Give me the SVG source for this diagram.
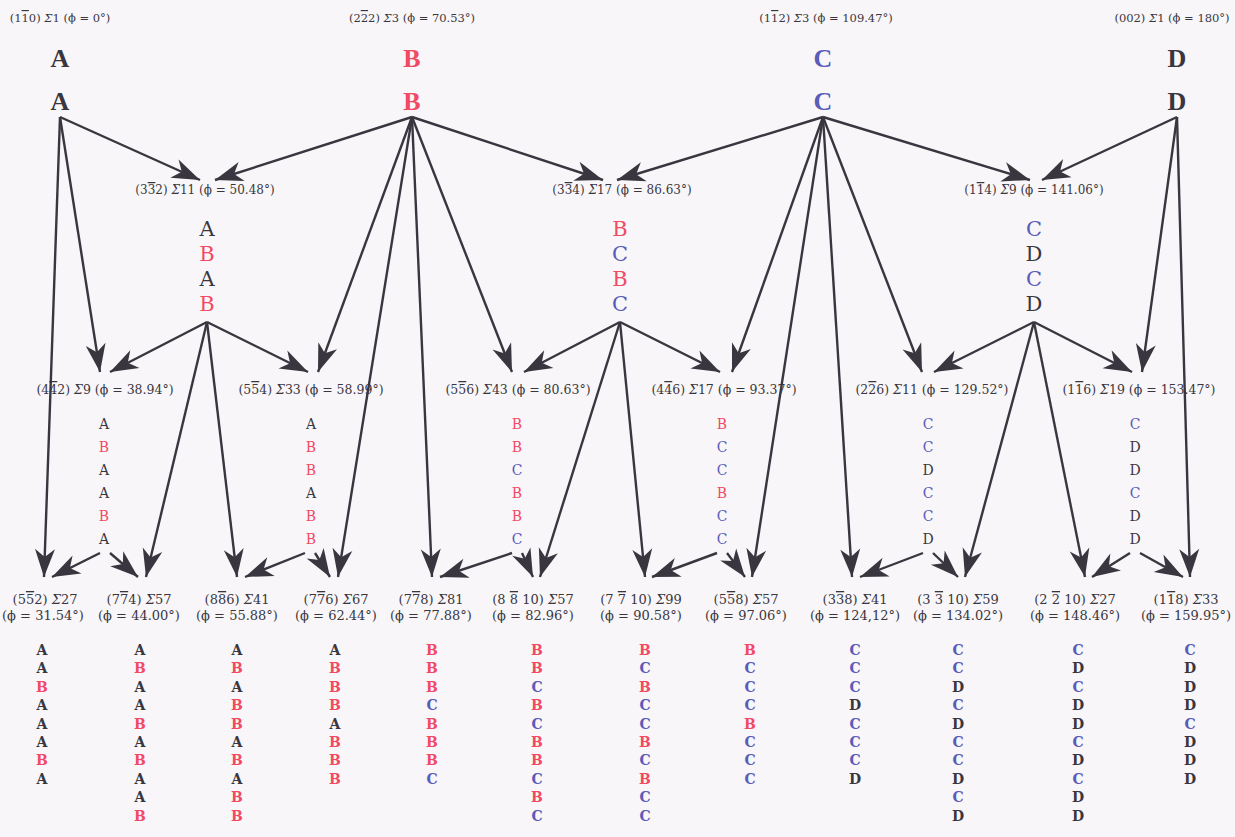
<svg xmlns="http://www.w3.org/2000/svg" width="1235" height="837" viewBox="0 0 1235 837">
<defs>
<marker id="ah" viewBox="-30 -12 32 24" refX="0" refY="0" markerWidth="32" markerHeight="24" orient="auto" markerUnits="userSpaceOnUse">
<path d="M0,0 L-28,-10 L-20,0 L-28,10 Z" fill="#3a3640"/>
</marker>
</defs>
<style>
.lbl{font-family:"DejaVu Serif","Liberation Serif",serif;font-size:12px;fill:#3a3640;text-anchor:middle}
.tl{font-size:11.5px}
.ml{font-size:12.5px}
.bl{font-size:13px}
.o{text-decoration:overline}
.big{font-family:"Liberation Serif",serif;font-size:26px;font-weight:bold;text-anchor:middle}
.up{font-family:"DejaVu Serif","Liberation Serif",serif;font-size:21px;text-anchor:middle}
.mid{font-family:"DejaVu Serif","Liberation Serif",serif;font-size:14px;text-anchor:middle}
.bot{font-family:"DejaVu Serif","Liberation Serif",serif;font-size:14px;font-weight:bold;text-anchor:middle}
.a,.d{fill:#3a3640}
.b{fill:#f24a64}
.c{fill:#5a5cb8}
.s{font-style:italic}
#connectors line{stroke:#3a3640;stroke-width:2.4;marker-end:url(#ah)}
</style>
<rect width="1235" height="837" fill="#f8f6f9"/>

<g id="connectors">
<line x1="60" y1="117" x2="200" y2="180"/>
<line x1="412" y1="117" x2="215" y2="180"/>
<line x1="412" y1="117" x2="603" y2="180"/>
<line x1="823" y1="117" x2="617" y2="180"/>
<line x1="823" y1="117" x2="1030" y2="180"/>
<line x1="1177" y1="117" x2="1042" y2="180"/>

<line x1="60" y1="117" x2="100" y2="372"/>
<line x1="207" y1="322" x2="110" y2="372"/>
<line x1="207" y1="322" x2="308" y2="372"/>
<line x1="412" y1="117" x2="318" y2="372"/>
<line x1="412" y1="117" x2="512" y2="372"/>
<line x1="620" y1="322" x2="524" y2="372"/>
<line x1="620" y1="322" x2="720" y2="372"/>
<line x1="823" y1="117" x2="732" y2="372"/>
<line x1="823" y1="117" x2="922" y2="372"/>
<line x1="1034" y1="322" x2="934" y2="372"/>
<line x1="1034" y1="322" x2="1132" y2="372"/>
<line x1="1177" y1="117" x2="1142" y2="372"/>

<line x1="60" y1="117" x2="44" y2="577"/>
<line x1="207" y1="322" x2="146" y2="577"/>
<line x1="207" y1="322" x2="237" y2="577"/>
<line x1="412" y1="117" x2="338" y2="577"/>
<line x1="412" y1="117" x2="432" y2="577"/>
<line x1="620" y1="322" x2="540" y2="577"/>
<line x1="620" y1="322" x2="645" y2="577"/>
<line x1="823" y1="117" x2="752" y2="577"/>
<line x1="823" y1="117" x2="852" y2="577"/>
<line x1="1034" y1="322" x2="965" y2="577"/>
<line x1="1034" y1="322" x2="1085" y2="577"/>
<line x1="1177" y1="117" x2="1190" y2="577"/>

<line x1="100" y1="553" x2="52" y2="577"/>
<line x1="110" y1="553" x2="138" y2="577"/>
<line x1="305" y1="553" x2="245" y2="577"/>
<line x1="315" y1="553" x2="330" y2="577"/>
<line x1="512" y1="553" x2="440" y2="577"/>
<line x1="522" y1="553" x2="533" y2="577"/>
<line x1="717" y1="553" x2="652" y2="577"/>
<line x1="727" y1="553" x2="745" y2="577"/>
<line x1="923" y1="553" x2="860" y2="577"/>
<line x1="933" y1="553" x2="958" y2="577"/>
<line x1="1130" y1="553" x2="1092" y2="577"/>
<line x1="1140" y1="553" x2="1183" y2="577"/>
</g>

<g id="top-labels">
<text class="lbl tl" x="60" y="22">(1<tspan class="o">1</tspan>0) <tspan class="s">Σ</tspan>1 (ϕ = 0°)</text>
<text class="lbl tl" x="412" y="22">(2<tspan class="o">2</tspan>2) <tspan class="s">Σ</tspan>3 (ϕ = 70.53°)</text>
<text class="lbl tl" x="826" y="22">(1<tspan class="o">1</tspan>2) <tspan class="s">Σ</tspan>3 (ϕ = 109.47°)</text>
<text class="lbl tl" x="1172" y="22">(002) <tspan class="s">Σ</tspan>1 (ϕ = 180°)</text>
</g>

<g id="node-A"><text class="big a" x="60" y="67">A</text><text class="big a" x="60" y="110">A</text></g>
<g id="node-B"><text class="big b" x="412" y="67">B</text><text class="big b" x="412" y="110">B</text></g>
<g id="node-C"><text class="big c" x="823" y="67">C</text><text class="big c" x="823" y="110">C</text></g>
<g id="node-D"><text class="big d" x="1177" y="67">D</text><text class="big d" x="1177" y="110">D</text></g>

<g id="node-332">
<text class="lbl" x="205" y="194">(3<tspan class="o">3</tspan>2) <tspan class="s">Σ</tspan>11 (ϕ = 50.48°)</text>
<text class="up a" x="207" y="236">A</text><text class="up b" x="207" y="261">B</text><text class="up a" x="207" y="286">A</text><text class="up b" x="207" y="311">B</text>
</g>
<g id="node-334">
<text class="lbl" x="622" y="194">(3<tspan class="o">3</tspan>4) <tspan class="s">Σ</tspan>17 (ϕ = 86.63°)</text>
<text class="up b" x="620" y="236">B</text><text class="up c" x="620" y="261">C</text><text class="up b" x="620" y="286">B</text><text class="up c" x="620" y="311">C</text>
</g>
<g id="node-114">
<text class="lbl" x="1034" y="194">(1<tspan class="o">1</tspan>4) <tspan class="s">Σ</tspan>9 (ϕ = 141.06°)</text>
<text class="up c" x="1034" y="236">C</text><text class="up d" x="1034" y="261">D</text><text class="up c" x="1034" y="286">C</text><text class="up d" x="1034" y="311">D</text>
</g>

<g id="node-442">
<text class="lbl ml" x="105" y="394">(4<tspan class="o">4</tspan>2) <tspan class="s">Σ</tspan>9 (ϕ = 38.94°)</text>
<text class="mid a" x="104" y="429">A</text><text class="mid b" x="104" y="452">B</text><text class="mid a" x="104" y="475">A</text><text class="mid a" x="104" y="498">A</text><text class="mid b" x="104" y="521">B</text><text class="mid a" x="104" y="544">A</text>
</g>
<g id="node-554">
<text class="lbl ml" x="311" y="394">(5<tspan class="o">5</tspan>4) <tspan class="s">Σ</tspan>33 (ϕ = 58.99°)</text>
<text class="mid a" x="311" y="429">A</text><text class="mid b" x="311" y="452">B</text><text class="mid b" x="311" y="475">B</text><text class="mid a" x="311" y="498">A</text><text class="mid b" x="311" y="521">B</text><text class="mid b" x="311" y="544">B</text>
</g>
<g id="node-556">
<text class="lbl ml" x="518" y="394">(5<tspan class="o">5</tspan>6) <tspan class="s">Σ</tspan>43 (ϕ = 80.63°)</text>
<text class="mid b" x="517" y="429">B</text><text class="mid b" x="517" y="452">B</text><text class="mid c" x="517" y="475">C</text><text class="mid b" x="517" y="498">B</text><text class="mid b" x="517" y="521">B</text><text class="mid c" x="517" y="544">C</text>
</g>
<g id="node-446">
<text class="lbl ml" x="724" y="394">(4<tspan class="o">4</tspan>6) <tspan class="s">Σ</tspan>17 (ϕ = 93.37°)</text>
<text class="mid b" x="722" y="429">B</text><text class="mid c" x="722" y="452">C</text><text class="mid c" x="722" y="475">C</text><text class="mid b" x="722" y="498">B</text><text class="mid c" x="722" y="521">C</text><text class="mid c" x="722" y="544">C</text>
</g>
<g id="node-226">
<text class="lbl ml" x="932" y="394">(2<tspan class="o">2</tspan>6) <tspan class="s">Σ</tspan>11 (ϕ = 129.52°)</text>
<text class="mid c" x="928" y="429">C</text><text class="mid c" x="928" y="452">C</text><text class="mid d" x="928" y="475">D</text><text class="mid c" x="928" y="498">C</text><text class="mid c" x="928" y="521">C</text><text class="mid d" x="928" y="544">D</text>
</g>
<g id="node-116">
<text class="lbl ml" x="1139" y="394">(1<tspan class="o">1</tspan>6) <tspan class="s">Σ</tspan>19 (ϕ = 153.47°)</text>
<text class="mid c" x="1135" y="429">C</text><text class="mid d" x="1135" y="452">D</text><text class="mid d" x="1135" y="475">D</text><text class="mid c" x="1135" y="498">C</text><text class="mid d" x="1135" y="521">D</text><text class="mid d" x="1135" y="544">D</text>
</g>

<g id="node-552">
<text class="lbl bl" x="45" y="604">(5<tspan class="o">5</tspan>2) <tspan class="s">Σ</tspan>27</text><text class="lbl bl" x="43" y="620">(ϕ = 31.54°)</text>
<text class="bot a" x="42" y="655">A</text><text class="bot a" x="42" y="673.4">A</text><text class="bot b" x="42" y="691.8">B</text><text class="bot a" x="42" y="710.2">A</text><text class="bot a" x="42" y="728.6">A</text><text class="bot a" x="42" y="747">A</text><text class="bot b" x="42" y="765.4">B</text><text class="bot a" x="42" y="783.8">A</text>
</g>
<g id="node-774">
<text class="lbl bl" x="139" y="604">(7<tspan class="o">7</tspan>4) <tspan class="s">Σ</tspan>57</text><text class="lbl bl" x="139" y="620">(ϕ = 44.00°)</text>
<text class="bot a" x="140" y="655">A</text><text class="bot b" x="140" y="673.4">B</text><text class="bot a" x="140" y="691.8">A</text><text class="bot a" x="140" y="710.2">A</text><text class="bot b" x="140" y="728.6">B</text><text class="bot a" x="140" y="747">A</text><text class="bot b" x="140" y="765.4">B</text><text class="bot a" x="140" y="783.8">A</text><text class="bot a" x="140" y="802.2">A</text><text class="bot b" x="140" y="820.6">B</text>
</g>
<g id="node-886">
<text class="lbl bl" x="237" y="604">(8<tspan class="o">8</tspan>6) <tspan class="s">Σ</tspan>41</text><text class="lbl bl" x="237" y="620">(ϕ = 55.88°)</text>
<text class="bot a" x="237" y="655">A</text><text class="bot b" x="237" y="673.4">B</text><text class="bot a" x="237" y="691.8">A</text><text class="bot b" x="237" y="710.2">B</text><text class="bot b" x="237" y="728.6">B</text><text class="bot a" x="237" y="747">A</text><text class="bot b" x="237" y="765.4">B</text><text class="bot a" x="237" y="783.8">A</text><text class="bot b" x="237" y="802.2">B</text><text class="bot b" x="237" y="820.6">B</text>
</g>
<g id="node-776">
<text class="lbl bl" x="336" y="604">(7<tspan class="o">7</tspan>6) <tspan class="s">Σ</tspan>67</text><text class="lbl bl" x="336" y="620">(ϕ = 62.44°)</text>
<text class="bot a" x="335" y="655">A</text><text class="bot b" x="335" y="673.4">B</text><text class="bot b" x="335" y="691.8">B</text><text class="bot b" x="335" y="710.2">B</text><text class="bot a" x="335" y="728.6">A</text><text class="bot b" x="335" y="747">B</text><text class="bot b" x="335" y="765.4">B</text><text class="bot b" x="335" y="783.8">B</text>
</g>
<g id="node-778">
<text class="lbl bl" x="431" y="604">(7<tspan class="o">7</tspan>8) <tspan class="s">Σ</tspan>81</text><text class="lbl bl" x="431" y="620">(ϕ = 77.88°)</text>
<text class="bot b" x="432" y="655">B</text><text class="bot b" x="432" y="673.4">B</text><text class="bot b" x="432" y="691.8">B</text><text class="bot c" x="432" y="710.2">C</text><text class="bot b" x="432" y="728.6">B</text><text class="bot b" x="432" y="747">B</text><text class="bot b" x="432" y="765.4">B</text><text class="bot c" x="432" y="783.8">C</text>
</g>
<g id="node-8810">
<text class="lbl bl" x="533" y="604">(8 <tspan class="o">8</tspan> 10) <tspan class="s">Σ</tspan>57</text><text class="lbl bl" x="533" y="620">(ϕ = 82.96°)</text>
<text class="bot b" x="537" y="655">B</text><text class="bot b" x="537" y="673.4">B</text><text class="bot c" x="537" y="691.8">C</text><text class="bot b" x="537" y="710.2">B</text><text class="bot c" x="537" y="728.6">C</text><text class="bot b" x="537" y="747">B</text><text class="bot b" x="537" y="765.4">B</text><text class="bot c" x="537" y="783.8">C</text><text class="bot b" x="537" y="802.2">B</text><text class="bot c" x="537" y="820.6">C</text>
</g>
<g id="node-7710">
<text class="lbl bl" x="641" y="604">(7 <tspan class="o">7</tspan> 10) <tspan class="s">Σ</tspan>99</text><text class="lbl bl" x="641" y="620">(ϕ = 90.58°)</text>
<text class="bot b" x="645" y="655">B</text><text class="bot c" x="645" y="673.4">C</text><text class="bot b" x="645" y="691.8">B</text><text class="bot c" x="645" y="710.2">C</text><text class="bot c" x="645" y="728.6">C</text><text class="bot b" x="645" y="747">B</text><text class="bot c" x="645" y="765.4">C</text><text class="bot b" x="645" y="783.8">B</text><text class="bot c" x="645" y="802.2">C</text><text class="bot c" x="645" y="820.6">C</text>
</g>
<g id="node-558">
<text class="lbl bl" x="746" y="604">(5<tspan class="o">5</tspan>8) <tspan class="s">Σ</tspan>57</text><text class="lbl bl" x="746" y="620">(ϕ = 97.06°)</text>
<text class="bot b" x="750" y="655">B</text><text class="bot c" x="750" y="673.4">C</text><text class="bot c" x="750" y="691.8">C</text><text class="bot c" x="750" y="710.2">C</text><text class="bot b" x="750" y="728.6">B</text><text class="bot c" x="750" y="747">C</text><text class="bot c" x="750" y="765.4">C</text><text class="bot c" x="750" y="783.8">C</text>
</g>
<g id="node-338">
<text class="lbl bl" x="855" y="604">(3<tspan class="o">3</tspan>8) <tspan class="s">Σ</tspan>41</text><text class="lbl bl" x="855" y="620">(ϕ = 124,12°)</text>
<text class="bot c" x="855" y="655">C</text><text class="bot c" x="855" y="673.4">C</text><text class="bot c" x="855" y="691.8">C</text><text class="bot d" x="855" y="710.2">D</text><text class="bot c" x="855" y="728.6">C</text><text class="bot c" x="855" y="747">C</text><text class="bot c" x="855" y="765.4">C</text><text class="bot d" x="855" y="783.8">D</text>
</g>
<g id="node-3310">
<text class="lbl bl" x="958" y="604">(3 <tspan class="o">3</tspan> 10) <tspan class="s">Σ</tspan>59</text><text class="lbl bl" x="958" y="620">(ϕ = 134.02°)</text>
<text class="bot c" x="958" y="655">C</text><text class="bot c" x="958" y="673.4">C</text><text class="bot d" x="958" y="691.8">D</text><text class="bot c" x="958" y="710.2">C</text><text class="bot d" x="958" y="728.6">D</text><text class="bot c" x="958" y="747">C</text><text class="bot c" x="958" y="765.4">C</text><text class="bot d" x="958" y="783.8">D</text><text class="bot c" x="958" y="802.2">C</text><text class="bot d" x="958" y="820.6">D</text>
</g>
<g id="node-2210">
<text class="lbl bl" x="1075" y="604">(2 <tspan class="o">2</tspan> 10) <tspan class="s">Σ</tspan>27</text><text class="lbl bl" x="1075" y="620">(ϕ = 148.46°)</text>
<text class="bot c" x="1078" y="655">C</text><text class="bot d" x="1078" y="673.4">D</text><text class="bot c" x="1078" y="691.8">C</text><text class="bot d" x="1078" y="710.2">D</text><text class="bot d" x="1078" y="728.6">D</text><text class="bot c" x="1078" y="747">C</text><text class="bot d" x="1078" y="765.4">D</text><text class="bot c" x="1078" y="783.8">C</text><text class="bot d" x="1078" y="802.2">D</text><text class="bot d" x="1078" y="820.6">D</text>
</g>
<g id="node-118">
<text class="lbl bl" x="1186" y="604">(1<tspan class="o">1</tspan>8) <tspan class="s">Σ</tspan>33</text><text class="lbl bl" x="1186" y="620">(ϕ = 159.95°)</text>
<text class="bot c" x="1190" y="655">C</text><text class="bot d" x="1190" y="673.4">D</text><text class="bot d" x="1190" y="691.8">D</text><text class="bot d" x="1190" y="710.2">D</text><text class="bot c" x="1190" y="728.6">C</text><text class="bot d" x="1190" y="747">D</text><text class="bot d" x="1190" y="765.4">D</text><text class="bot d" x="1190" y="783.8">D</text>
</g>
</svg>
